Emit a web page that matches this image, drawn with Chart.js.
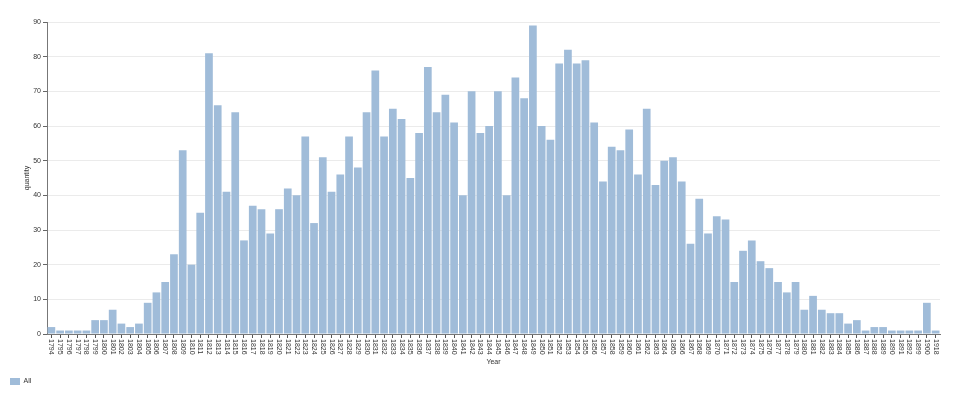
<!DOCTYPE html>
<html>
<head>
<meta charset="utf-8">
<script src="https://cdn.jsdelivr.net/npm/chart.js@4.4.0/dist/chart.umd.min.js"></script>
<style>
  html, body { margin: 0; padding: 0; background: #fff; }
  #wrap { width: 960px; height: 395px; }
</style>
</head>
<body>
<div id="wrap"><canvas id="chart" width="960" height="395"></canvas></div>
<script>
const years = [
  '1794','1795','1796','1797','1798','1799','1800','1801','1802','1803',
  '1804','1805','1806','1807','1808','1809','1810','1811','1812','1813',
  '1814','1815','1816','1817','1818','1819','1820','1821','1822','1823',
  '1824','1825','1826','1827','1828','1829','1830','1831','1832','1833',
  '1834','1835','1836','1837','1838','1839','1840','1841','1842','1843',
  '1844','1845','1846','1847','1848','1849','1850','1851','1852','1853',
  '1854','1855','1856','1857','1858','1859','1860','1861','1862','1863',
  '1864','1865','1866','1867','1868','1869','1870','1871','1872','1873',
  '1874','1875','1876','1877','1878','1879','1880','1881','1882','1883',
  '1884','1885','1886','1887','1888','1889','1890','1891','1892','1899',
  '1900','1918'
];
const quantity = [
  2, 1, 1, 1, 1, 4, 4, 7, 3, 2,
  3, 9, 12, 15, 23, 53, 20, 35, 81, 66,
  41, 64, 27, 37, 36, 29, 36, 42, 40, 57,
  32, 51, 41, 46, 57, 48, 64, 76, 57, 65,
  62, 45, 58, 77, 64, 69, 61, 40, 70, 58,
  60, 70, 40, 74, 68, 89, 60, 56, 78, 82,
  78, 79, 61, 44, 54, 53, 59, 46, 65, 43,
  50, 51, 44, 26, 39, 29, 34, 33, 15, 24,
  27, 21, 19, 15, 12, 15, 7, 11, 7, 6,
  6, 3, 4, 1, 2, 2, 1, 1, 1, 1,
  9, 1
];
const yTicks = { min: 0, max: 90, step: 10 };
const seriesName = 'All';

Chart.defaults.font.family = '"Liberation Sans", Arial, sans-serif';
Chart.defaults.font.size = 7;
Chart.defaults.color = '#333';

// x labels read top-to-bottom in the reference, so draw them rotated clockwise
const xLabelPlugin = {
  id: 'xLabels',
  afterDraw(chart) {
    const xs = chart.scales.x;
    const ctx = chart.ctx;
    ctx.save();
    ctx.font = '7px "Liberation Sans", Arial, sans-serif';
    ctx.fillStyle = '#333';
    ctx.textAlign = 'left';
    ctx.textBaseline = 'middle';
    chart.data.labels.forEach((lab, i) => {
      const x = xs.getPixelForValue(i);
      ctx.save();
      ctx.translate(x, xs.top + 5);
      ctx.rotate(Math.PI / 2);
      ctx.fillText(lab, 0, 0);
      ctx.restore();
    });
    ctx.restore();
  }
};

new Chart(document.getElementById('chart'), {
  type: 'bar',
  data: {
    labels: years,
    datasets: [{
      label: seriesName,
      data: quantity,
      backgroundColor: '#a0bcd9',
      borderWidth: 0,
      barPercentage: 0.88,
      categoryPercentage: 1
    }]
  },
  options: {
    responsive: false,
    animation: false,
    layout: { padding: { left: 0, right: 20, top: 22, bottom: 0 } },
    plugins: {
      legend: {
        position: 'bottom',
        align: 'start',
        labels: { boxWidth: 10, boxHeight: 7, padding: 10, color: '#333', font: { size: 7 } }
      },
      tooltip: { enabled: false }
    },
    scales: {
      x: {
        afterFit(s) { s.height = 34; },
        grid: { display: true, drawOnChartArea: false, drawTicks: true, tickLength: 4, tickColor: '#555', offset: false },
        border: { display: true, color: '#777', width: 1 },
        ticks: { display: false, autoSkip: false },
        title: { display: true, text: 'Year', color: '#333', font: { size: 7 }, padding: { top: 0, bottom: 2 } }
      },
      y: {
        min: yTicks.min,
        max: yTicks.max,
        afterFit(s) { s.width = 47; },
        ticks: { stepSize: yTicks.step, padding: 2, color: '#333' },
        grid: { color: '#ebebeb', tickColor: '#666', tickLength: 4 },
        border: { display: true, color: '#777', width: 1 },
        title: { display: true, text: 'quantity', color: '#333', font: { size: 7 }, padding: { top: 23, bottom: 4 } }
      }
    }
  },
  plugins: [xLabelPlugin]
});
</script>
</body>
</html>
